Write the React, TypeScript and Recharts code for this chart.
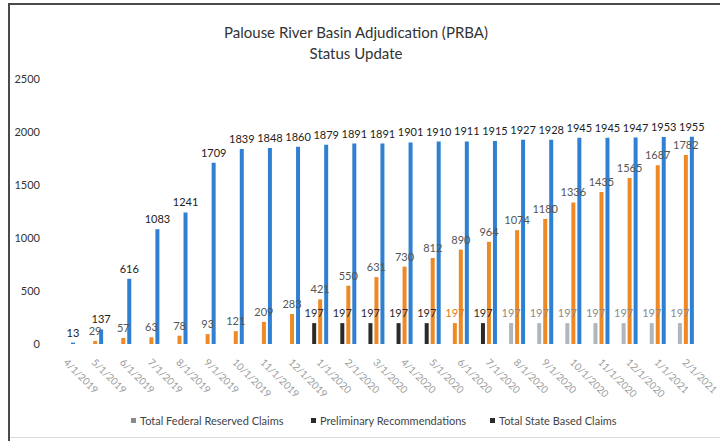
import React from 'react';
import { BarChart, Bar, XAxis, YAxis, LabelList, Cell } from 'recharts';

const categories = ['4/1/2019','5/1/2019','6/1/2019','7/1/2019','8/1/2019','9/1/2019','10/1/2019','11/1/2019','12/1/2019','1/1/2020','2/1/2020','3/1/2020','4/1/2020','5/1/2020','6/1/2020','7/1/2020','8/1/2020','9/1/2020','10/1/2020','11/1/2020','12/1/2020','1/1/2021','2/1/2021'];
const federalClaims: (number | null)[] = [null,null,null,null,null,null,null,null,null,197,197,197,197,197,197,197,197,197,197,197,197,197,197];
const preliminaryRecs = [0,29,57,63,78,93,121,209,283,421,550,631,730,812,890,964,1074,1180,1336,1435,1565,1687,1782];
const stateClaims = [13,137,616,1083,1241,1709,1839,1848,1860,1879,1891,1891,1901,1910,1911,1915,1927,1928,1945,1945,1947,1953,1955];
const yTicks = [0,500,1000,1500,2000,2500];
const seriesNames = ['Total Federal Reserved Claims','Preliminary Recommendations','Total State Based Claims'];
const titleLines = ['Palouse River Basin Adjudication (PRBA)','Status Update'];

// scan colour appearance of the federal bars (style only)
const federalBarColors = categories.map((_, i) => (i >= 9 && i <= 13) || i === 15 ? '#2a2a2a' : i === 14 ? '#ee8a25' : '#aeb6be');
const federalLabelColors = categories.map((_, i) => (i >= 9 && i <= 13) || i === 15 ? '#2a2a2a' : i === 14 ? '#e07a1a' : '#8a8a8a');
const federalPresentIdx = federalClaims.map((v, i) => (v === null ? -1 : i)).filter((i) => i >= 0);

const data = categories.map((c, i) => ({
  date: c,
  federal: federalClaims[i],
  prelim: preliminaryRecs[i],
  state: stateClaims[i],
}));

const FONT = 'Lato, "Open Sans", sans-serif';
const BLUE = '#2f80d2';
const ORANGE = '#ee8a25';

const FederalLabel = (props: any) => {
  const { x, y, width, value, index, payload } = props;
  if (value === null || value === undefined) return null;
  let di = payload && payload.date ? categories.indexOf(payload.date) : -1;
  if (di < 0) di = federalPresentIdx[index] ?? index;
  return (
    <text x={x + width / 2} y={y - 6} textAnchor="middle" fontSize={11} fontFamily={FONT} fill={federalLabelColors[di] || '#8a8a8a'}>
      {value}
    </text>
  );
};

const PrelimLabel = (props: any) => {
  const { x, y, width, value } = props;
  if (value === null || value === undefined) return null;
  return (
    <text x={x + width / 2} y={y - 6} textAnchor="middle" fontSize={11} fontFamily={FONT} fill="#555">
      {value}
    </text>
  );
};

const XTick = (props: any) => {
  const { x, y, payload } = props;
  return (
    <g transform={`translate(${x - 2},${y + 9})`}>
      <text transform="rotate(45)" textAnchor="start" fontSize={10} fontFamily={FONT} fill="#9a9a9a" dy={3}>
        {payload.value}
      </text>
    </g>
  );
};

export default function App() {
  const legendColors = ['#8a8a8a', '#2a2a2a', '#2a2a2a'];
  const legendX = [131, 311, 490];
  return (
    <div style={{ position: 'absolute', left: 0, top: 0, width: 720, height: 441, background: '#fff', overflow: 'hidden' }}>
      <div style={{ position: 'absolute', left: 8, top: 3, width: 712, height: 2, background: '#4a4a4a' }} />
      <div style={{ position: 'absolute', left: 8, top: 3, width: 2, height: 438, background: '#4a4a4a' }} />
      <div style={{ position: 'absolute', left: 10, top: 437, width: 710, height: 1, background: '#dcdcdc' }} />
      <div style={{ position: 'absolute', left: 0, top: 22, width: 712, textAlign: 'center', fontFamily: FONT, fontSize: 15, color: '#333', lineHeight: '21px' }}>
        {titleLines.map((t) => (<div key={t}>{t}</div>))}
      </div>
      <BarChart width={720} height={441} data={data} margin={{ top: 79, right: 20, bottom: 47, left: 0 }} barSize={4} barGap={2}>
        <XAxis dataKey="date" interval={0} axisLine={false} tickLine={false} tick={<XTick />} height={50} />
        <YAxis domain={[0, 2500]} ticks={yTicks} width={53} axisLine={false} tickLine={false} tickMargin={7} tick={{ fontSize: 11, fontFamily: FONT, fill: '#333' }} />
        <Bar dataKey="federal" isAnimationActive={false}>
          {data.map((_, i) => (<Cell key={i} fill={federalBarColors[i]} />))}
          <LabelList dataKey="federal" content={<FederalLabel />} />
        </Bar>
        <Bar dataKey="prelim" fill={ORANGE} isAnimationActive={false}>
          <LabelList dataKey="prelim" content={<PrelimLabel />} />
        </Bar>
        <Bar dataKey="state" fill={BLUE} isAnimationActive={false}>
          <LabelList dataKey="state" position="top" offset={6} fontSize={11} fontFamily={FONT} fill="#222" />
        </Bar>
      </BarChart>
      {seriesNames.map((n, i) => (
        <div key={n} style={{ position: 'absolute', left: legendX[i], top: 414, fontFamily: FONT, fontSize: 11, color: '#444', whiteSpace: 'nowrap', display: 'flex', alignItems: 'center' }}>
          <span style={{ display: 'inline-block', width: 5, height: 5, background: legendColors[i], marginRight: 4 }} />
          {n}
        </div>
      ))}
    </div>
  );
}
